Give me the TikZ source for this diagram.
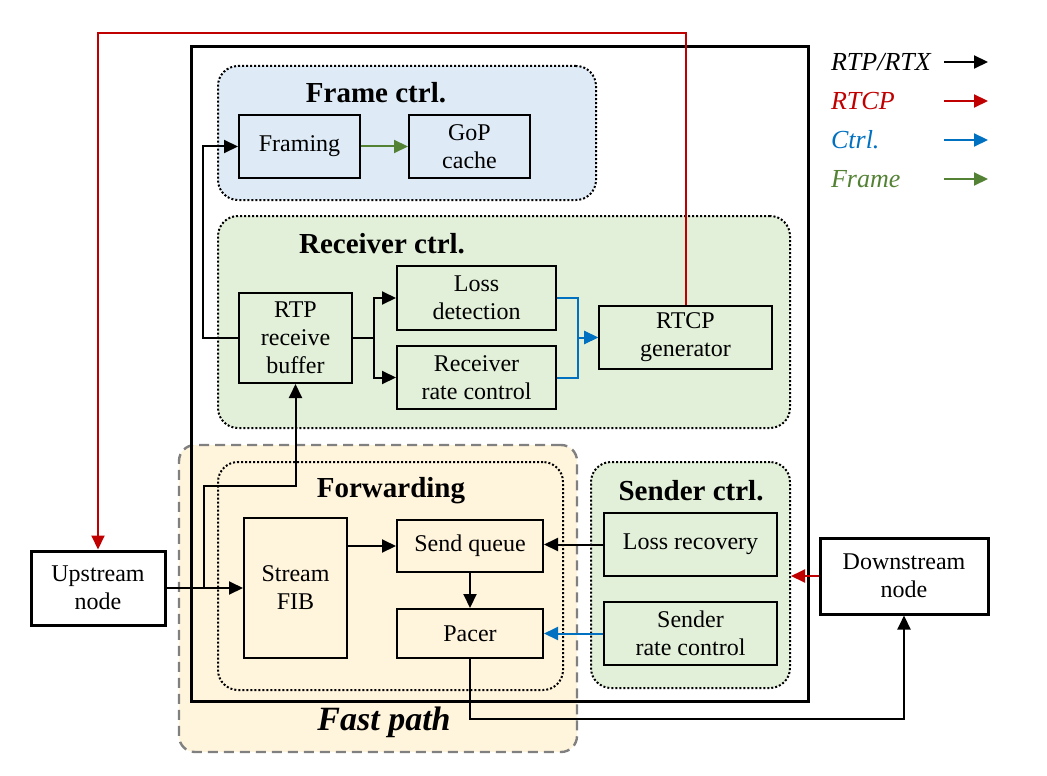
\documentclass[tikz,border=0pt]{standalone}
\usepackage{fontspec}
\setmainfont{Liberation Serif}
\usetikzlibrary{arrows.meta}

\definecolor{rtcpred}{HTML}{C00000}
\definecolor{ctrlblue}{HTML}{0070C0}
\definecolor{framegreen}{HTML}{548235}
\definecolor{framefill}{HTML}{DEEBF7}
\definecolor{ctrlfill}{HTML}{E2F0D9}
\definecolor{fastfill}{HTML}{FFF4DC}

\tikzset{
    block/.style={draw, line width=1pt, align=center, inner sep=1pt,
        font=\fontsize{12}{14}\selectfont},
    endpoint/.style={block, line width=1.5pt},
    region/.style={draw, densely dotted, line width=1pt, rounded corners=10pt},
    regiontitle/.style={font=\bfseries\fontsize{14.5}{17}\selectfont},
    legendtext/.style={anchor=west, font=\itshape\fontsize{13}{15}\selectfont},
    flow/.style={->, line width=1pt},
}

\begin{document}
\begin{tikzpicture}[x=0.5pt, y=-0.5pt, >={Triangle[length=7pt,width=6.5pt]}]
    \useasboundingbox (0,0) rectangle (1047,775);

    % --- Fast path 区域 (底层) ---
    \node[draw=gray, dashed, dash pattern=on 5pt off 3pt, line width=1.2pt,
          rounded corners=8pt, fill=fastfill,
          minimum width=199pt, minimum height=153.5pt] (fastpath) at (378,598.5) {};
    \node[font=\bfseries\itshape\fontsize{17}{20}\selectfont] (fasttitle) at (384,722) {Fast path};

    % --- 外框 ---
    \draw[line width=1.5pt] (191,47) rectangle (808,701);

    % --- 控制区域 ---
    \node[region, fill=framefill, minimum width=189pt, minimum height=67pt] (framectrl) at (407,133) {};
    \node[region, fill=ctrlfill, minimum width=286pt, minimum height=106pt] (recvctrl) at (504,322) {};
    \node[region, minimum width=172.5pt, minimum height=114pt] (forwarding) at (390.5,576) {};
    \node[region, fill=ctrlfill, minimum width=99.5pt, minimum height=113pt] (senderctrl) at (690.5,575) {};

    \node[regiontitle] (frametitle) at (376,93) {Frame ctrl.};
    \node[regiontitle] (recvtitle) at (382,244) {Receiver ctrl.};
    \node[regiontitle] (fwdtitle) at (391,491) {Forwarding};
    \node[regiontitle] (sendertitle) at (691,491) {Sender ctrl.};

    % --- 模块 ---
    \node[block, minimum width=60.5pt, minimum height=31.5pt] (framing) at (299.5,146.5) {Framing};
    \node[block, minimum width=60.5pt, minimum height=31.5pt] (gop) at (469.5,146.5) {GoP\\cache};

    \node[block, minimum width=56.5pt, minimum height=45pt] (buffer) at (295.5,338) {RTP\\receive\\buffer};
    \node[block, minimum width=79.5pt, minimum height=32pt] (lossdet) at (476.5,298) {Loss\\detection};
    \node[block, minimum width=79.5pt, minimum height=31.5pt] (rxrate) at (476.5,377.5) {Receiver\\rate control};
    \node[block, minimum width=86.5pt, minimum height=31.5pt] (rtcpgen) at (685.5,337.5) {RTCP\\generator};

    \node[block, minimum width=51.5pt, minimum height=70pt] (fib) at (295.5,588) {Stream\\FIB};
    \node[block, minimum width=73pt, minimum height=26pt] (sendq) at (470,546) {Send queue};
    \node[block, minimum width=73pt, minimum height=24.5pt] (pacer) at (470,633.5) {Pacer};

    \node[block, minimum width=86.5pt, minimum height=31.5pt] (lossrec) at (690.5,544.5) {Loss recovery};
    \node[block, minimum width=86.5pt, minimum height=31.5pt] (txrate) at (690.5,633.5) {Sender\\rate control};

    \node[endpoint, minimum width=67pt, minimum height=37pt] (upstream) at (98,588) {Upstream\\node};
    \node[endpoint, minimum width=84pt, minimum height=38pt] (downstream) at (904,576) {Downstream\\node};

    % --- RTP/RTX 连线 ---
    \draw[flow] (buffer.west) -- ++(-35,0) |- (framing.west);
    \draw[flow] (buffer.east) -- ++(21,0) coordinate (split) |- (lossdet.west);
    \draw[flow] (split) |- (rxrate.west);
    \draw[flow] (upstream.east) -- (fib.west);
    \coordinate (tap) at (204,588);
    \draw[flow] (tap) -- ++(0,-102) -| (buffer.south);
    \draw[flow] (fib.east |- sendq.west) -- (sendq.west);
    \draw[flow] (sendq.south) -- (pacer.north);
    \draw[flow] (lossrec.west) -- (sendq.east |- lossrec.west);
    \draw[flow] (pacer.south) -- ++(0,60) -| (downstream.south);

    % --- Ctrl 连线 ---
    \draw[flow, ctrlblue] (lossdet.east) -- ++(21,0) |- (rtcpgen.west);
    \draw[flow, ctrlblue] (rxrate.east) -- ++(21,0) |- (rtcpgen.west);
    \draw[flow, ctrlblue] (txrate.west) -- (pacer.east |- txrate.west);

    % --- RTCP 连线 ---
    \draw[flow, rtcpred] (rtcpgen.north) -- (rtcpgen.north |- 0,33) -| (upstream.north);
    \draw[flow, rtcpred] (downstream.west) -- (senderctrl.east |- downstream.west);

    % --- Frame 连线 ---
    \draw[flow, framegreen] (framing.east) -- (gop.west);

    % --- 图例 ---
    \node[legendtext] (legrtp) at (824,62) {RTP/RTX};
    \node[legendtext, text=rtcpred] (legrtcp) at (824,101) {RTCP};
    \node[legendtext, text=ctrlblue] (legctrl) at (824,140) {Ctrl.};
    \node[legendtext, text=framegreen] (legframe) at (824,179) {Frame};
    \draw[flow] (944,62) -- (988,62);
    \draw[flow, rtcpred] (944,101) -- (988,101);
    \draw[flow, ctrlblue] (944,140) -- (988,140);
    \draw[flow, framegreen] (944,179) -- (988,179);
\end{tikzpicture}
\end{document}
